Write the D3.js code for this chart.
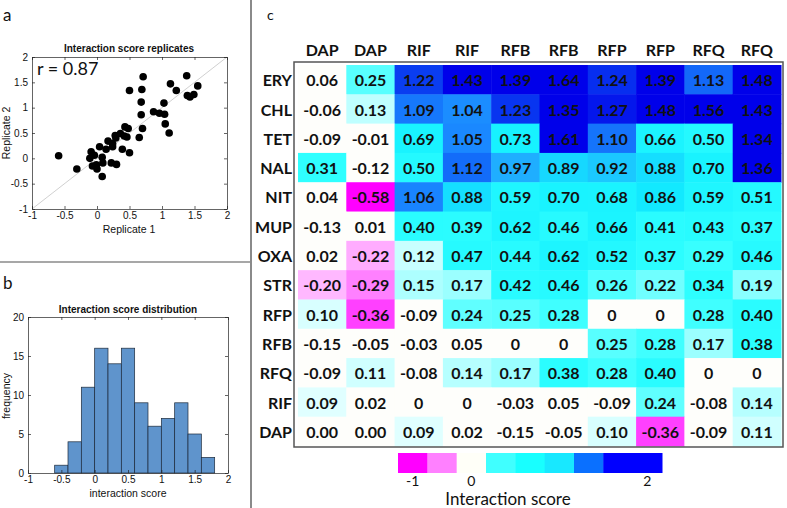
<!DOCTYPE html>
<html>
<head>
<meta charset="utf-8">
<script src="https://cdn.jsdelivr.net/npm/d3@7"></script>
<style>
  body { margin: 0; background: #fff; }
</style>
</head>
<body>
<div id="chart"></div>
<script>
///////////////////////////////////////////////////////////////////////////
// Data
///////////////////////////////////////////////////////////////////////////
// panel a: replicate scatter
const rep1 = [-0.59,-0.31,-0.09,-0.11,-0.04,-0.07,-0.01,0.00,0.04,0.08,0.09,0.08,0.14,0.17,0.22,0.24,0.24,0.30,0.28,0.29,0.36,0.39,0.42,0.46,0.43,0.48,0.50,0.50,0.68,0.65,0.68,0.69,0.70,0.71,0.87,0.96,1.03,1.04,1.05,1.11,1.13,1.22,1.38,1.39,1.43,1.49,1.55];
const rep2 = [0.05,-0.21,0.13,0.00,0.06,-0.15,-0.13,-0.21,0.23,0.02,-0.09,-0.36,0.18,0.34,-0.09,0.23,0.29,-0.12,0.45,0.40,0.49,0.18,0.44,0.42,0.62,0.59,0.11,1.34,1.11,0.41,0.86,1.36,0.59,1.61,0.92,0.89,1.09,0.87,0.68,0.50,1.47,1.34,1.63,1.24,1.21,1.26,1.43];
const scatterTicks = [-1, -0.5, 0, 0.5, 1, 1.5, 2];

// panel b: histogram
const histEdges = [-0.6,-0.4,-0.2,0,0.2,0.4,0.6,0.8,1.0,1.2,1.4,1.6,1.8];
const histCounts = [1,4,11,16,14,16,9,6,7,9,5,2];
const histXTicks = [-1, -0.5, 0, 0.5, 1, 1.5, 2];
const histYTicks = [0, 5, 10, 15, 20];

// panel c: heatmap
const rowNames = ["ERY","CHL","TET","NAL","NIT","MUP","OXA","STR","RFP","RFB","RFQ","RIF","DAP"];
const colNames = ["DAP","DAP","RIF","RIF","RFB","RFB","RFP","RFP","RFQ","RFQ"];
const scores = [
  ["0.06","0.25","1.22","1.43","1.39","1.64","1.24","1.39","1.13","1.48"],
  ["-0.06","0.13","1.09","1.04","1.23","1.35","1.27","1.48","1.56","1.43"],
  ["-0.09","-0.01","0.69","1.05","0.73","1.61","1.10","0.66","0.50","1.34"],
  ["0.31","-0.12","0.50","1.12","0.97","0.89","0.92","0.88","0.70","1.36"],
  ["0.04","-0.58","1.06","0.88","0.59","0.70","0.68","0.86","0.59","0.51"],
  ["-0.13","0.01","0.40","0.39","0.62","0.46","0.66","0.41","0.43","0.37"],
  ["0.02","-0.22","0.12","0.47","0.44","0.62","0.52","0.37","0.29","0.46"],
  ["-0.20","-0.29","0.15","0.17","0.42","0.46","0.26","0.22","0.34","0.19"],
  ["0.10","-0.36","-0.09","0.24","0.25","0.28","0","0","0.28","0.40"],
  ["-0.15","-0.05","-0.03","0.05","0","0","0.25","0.28","0.17","0.38"],
  ["-0.09","0.11","-0.08","0.14","0.17","0.38","0.28","0.40","0","0"],
  ["0.09","0.02","0","0","-0.03","0.05","-0.09","0.24","-0.08","0.14"],
  ["0.00","0.00","0.09","0.02","-0.15","-0.05","0.10","-0.36","-0.09","0.11"]
];

// colour bar
const cbColors = ["#ff00ff","#ff80ff","#fffff8","#40ffff","#18ffff","#18e8ff","#0a70ff","#0000ff","#0000ff"];
const cbLabels = [{ seg: 0, text: "-1" }, { seg: 2, text: "0" }, { seg: 8, text: "2" }];

///////////////////////////////////////////////////////////////////////////
// SVG
///////////////////////////////////////////////////////////////////////////
const W = 787, H = 508;
const svg = d3.select("#chart").append("svg")
  .attr("width", W)
  .attr("height", H)
  .style("background-color", "#fff");

const HELV = "'Liberation Sans', Arial, sans-serif";
const CAL = "Lato, 'Open Sans', sans-serif";

// panel dividers
svg.append("line")
  .attr("x1", 251).attr("x2", 251).attr("y1", 0).attr("y2", H)
  .attr("stroke", "#8a8a8a").attr("stroke-width", 2);
svg.append("line")
  .attr("x1", 0).attr("x2", 251).attr("y1", 262).attr("y2", 262)
  .attr("stroke", "#8a8a8a").attr("stroke-width", 1.5);

// matlab style box with inward ticks
function matlabBox(x, y, xTicks, yTicks) {
  const fmt = d => String(d);
  const [x0, x1] = x.range();
  const [y0, y1] = y.range();

  const bottom = svg.append("g").attr("transform", `translate(0,${y0})`)
    .call(d3.axisBottom(x).tickValues(xTicks).tickSizeInner(-3).tickSizeOuter(0).tickPadding(3).tickFormat(fmt));
  const top = svg.append("g").attr("transform", `translate(0,${y1})`)
    .call(d3.axisTop(x).tickValues(xTicks).tickSizeInner(-3).tickSizeOuter(0).tickFormat(""));
  const left = svg.append("g").attr("transform", `translate(${x0},0)`)
    .call(d3.axisLeft(y).tickValues(yTicks).tickSizeInner(-3).tickSizeOuter(0).tickPadding(4).tickFormat(fmt));
  const right = svg.append("g").attr("transform", `translate(${x1},0)`)
    .call(d3.axisRight(y).tickValues(yTicks).tickSizeInner(-3).tickSizeOuter(0).tickFormat(""));

  [bottom, top, left, right].forEach(a => {
    a.selectAll("path, line").attr("stroke", "#222").attr("stroke-width", 0.7);
    a.selectAll("text").attr("font-family", HELV).attr("font-size", "10px").attr("fill", "#111");
  });
}

///////////////////////////////////////////////////////////////////////////
// Panel a - scatter of replicates
///////////////////////////////////////////////////////////////////////////
const xa = d3.scaleLinear().domain([-1, 2]).range([32, 227]);
const ya = d3.scaleLinear().domain([-1, 2]).range([209, 57]);

svg.append("text").attr("x", 3).attr("y", 21)
  .attr("font-family", CAL).attr("font-size", "17px").attr("fill", "#111").text("a");

svg.append("line")
  .attr("x1", xa(-1)).attr("y1", ya(-1)).attr("x2", xa(2)).attr("y2", ya(2))
  .attr("stroke", "#c4c4c4").attr("stroke-width", 0.8);

matlabBox(xa, ya, scatterTicks, scatterTicks);

svg.append("g").selectAll("circle")
  .data(rep1.map((v, i) => [v, rep2[i]]))
  .join("circle")
  .attr("cx", d => xa(d[0]))
  .attr("cy", d => ya(d[1]))
  .attr("r", 3.8)
  .attr("fill", "#000");

svg.append("text").attr("x", 129).attr("y", 52).attr("text-anchor", "middle")
  .attr("font-family", HELV).attr("font-size", "10px").attr("font-weight", "bold")
  .attr("fill", "#111").text("Interaction score replicates");
svg.append("text").attr("x", 37).attr("y", 75)
  .attr("font-family", CAL).attr("font-size", "18px").attr("fill", "#111").text("r = 0.87");
svg.append("text").attr("x", 129).attr("y", 233).attr("text-anchor", "middle")
  .attr("font-family", HELV).attr("font-size", "10.5px").attr("fill", "#111").text("Replicate 1");
svg.append("text").attr("transform", "translate(10,133) rotate(-90)").attr("text-anchor", "middle")
  .attr("font-family", HELV).attr("font-size", "10.5px").attr("fill", "#111").text("Replicate 2");

///////////////////////////////////////////////////////////////////////////
// Panel b - histogram
///////////////////////////////////////////////////////////////////////////
const xb = d3.scaleLinear().domain([-1, 2]).range([28, 228]);
const yb = d3.scaleLinear().domain([0, 20]).range([473, 317]);

svg.append("text").attr("x", 3).attr("y", 289)
  .attr("font-family", CAL).attr("font-size", "17px").attr("fill", "#111").text("b");

svg.append("g").selectAll("rect")
  .data(histCounts)
  .join("rect")
  .attr("x", (d, i) => xb(histEdges[i]))
  .attr("width", (d, i) => xb(histEdges[i + 1]) - xb(histEdges[i]))
  .attr("y", d => yb(d))
  .attr("height", d => yb(0) - yb(d))
  .attr("fill", "#5f94cc")
  .attr("stroke", "#1d2a3a")
  .attr("stroke-width", 0.7);

matlabBox(xb, yb, histXTicks, histYTicks);

svg.append("text").attr("x", 128).attr("y", 313).attr("text-anchor", "middle")
  .attr("font-family", HELV).attr("font-size", "10px").attr("font-weight", "bold")
  .attr("fill", "#111").text("Interaction score distribution");
svg.append("text").attr("x", 128).attr("y", 497).attr("text-anchor", "middle")
  .attr("font-family", HELV).attr("font-size", "10.5px").attr("fill", "#111").text("interaction score");
svg.append("text").attr("transform", "translate(10,396) rotate(-90)").attr("text-anchor", "middle")
  .attr("font-family", HELV).attr("font-size", "10.5px").attr("fill", "#111").text("frequency");

///////////////////////////////////////////////////////////////////////////
// Panel c - heatmap
///////////////////////////////////////////////////////////////////////////
svg.append("text").attr("x", 267).attr("y", 20)
  .attr("font-family", CAL).attr("font-size", "14px").attr("fill", "#111").text("c");

const xc = d3.scaleBand().domain(d3.range(colNames.length)).range([298, 781]);
const yc = d3.scaleBand().domain(d3.range(rowNames.length)).range([65, 446]);

const heatColor = d3.scaleLinear()
  .domain([-0.58, -0.36, -0.29, -0.2, -0.16, 0.06, 0.085, 0.12, 0.2, 0.3, 0.85, 0.95, 1.05, 1.2, 1.3])
  .range(["#ff00ff","#ff40ff","#ff80ff","#ffb8ff","#fefefb","#fefefb","#e4ffff","#c8ffff","#80ffff","#30ffff","#10eeff","#20b8ff","#1a88ff","#0c4cf2","#0000ea"])
  .clamp(true);

const cells = scores.flatMap((row, r) => row.map((s, c) => ({ r, c, s })));

svg.append("g").selectAll("rect")
  .data(cells)
  .join("rect")
  .attr("x", d => xc(d.c))
  .attr("y", d => yc(d.r))
  .attr("width", xc.bandwidth() + 0.5)
  .attr("height", yc.bandwidth() + 0.5)
  .attr("fill", d => heatColor(+d.s));

svg.append("g").selectAll("text")
  .data(cells)
  .join("text")
  .attr("x", d => xc(d.c) + xc.bandwidth() / 2)
  .attr("y", d => yc(d.r) + yc.bandwidth() / 2 + 1)
  .attr("dy", "0.35em")
  .attr("text-anchor", "middle")
  .attr("font-family", CAL)
  .attr("font-weight", "bold")
  .attr("font-size", "16px")
  .attr("fill", "#111")
  .text(d => d.s);

// frame
svg.append("rect")
  .attr("x", 294).attr("y", 62).attr("width", 489).attr("height", 385)
  .attr("fill", "none").attr("stroke", "#555").attr("stroke-width", 1.5);

// row labels
svg.append("g").selectAll("text")
  .data(rowNames)
  .join("text")
  .attr("x", 292)
  .attr("y", (d, i) => yc(i) + yc.bandwidth() / 2 + 1)
  .attr("dy", "0.35em")
  .attr("text-anchor", "end")
  .attr("font-family", CAL).attr("font-weight", "bold").attr("font-size", "16px")
  .attr("fill", "#111")
  .text(d => d);

// column labels
svg.append("g").selectAll("text")
  .data(colNames)
  .join("text")
  .attr("x", (d, i) => xc(i) + xc.bandwidth() / 2)
  .attr("y", 50)
  .attr("dy", "0.35em")
  .attr("text-anchor", "middle")
  .attr("font-family", CAL).attr("font-weight", "bold").attr("font-size", "16px")
  .attr("fill", "#111")
  .text(d => d);

///////////////////////////////////////////////////////////////////////////
// Colour bar
///////////////////////////////////////////////////////////////////////////
const xcb = d3.scaleBand().domain(d3.range(cbColors.length)).range([398, 662]);

svg.append("g").selectAll("rect")
  .data(cbColors)
  .join("rect")
  .attr("x", (d, i) => xcb(i))
  .attr("y", 453)
  .attr("width", xcb.bandwidth() + 0.5)
  .attr("height", 20)
  .attr("fill", d => d);

svg.append("g").selectAll("text")
  .data(cbLabels)
  .join("text")
  .attr("x", d => xcb(d.seg) + xcb.bandwidth() / 2)
  .attr("y", 486)
  .attr("text-anchor", "middle")
  .attr("font-family", CAL).attr("font-size", "14px").attr("fill", "#111")
  .text(d => d.text);

svg.append("text").attr("x", 508).attr("y", 505).attr("text-anchor", "middle")
  .attr("font-family", CAL).attr("font-size", "17px").attr("fill", "#111")
  .text("Interaction score");
</script>
</body>
</html>
